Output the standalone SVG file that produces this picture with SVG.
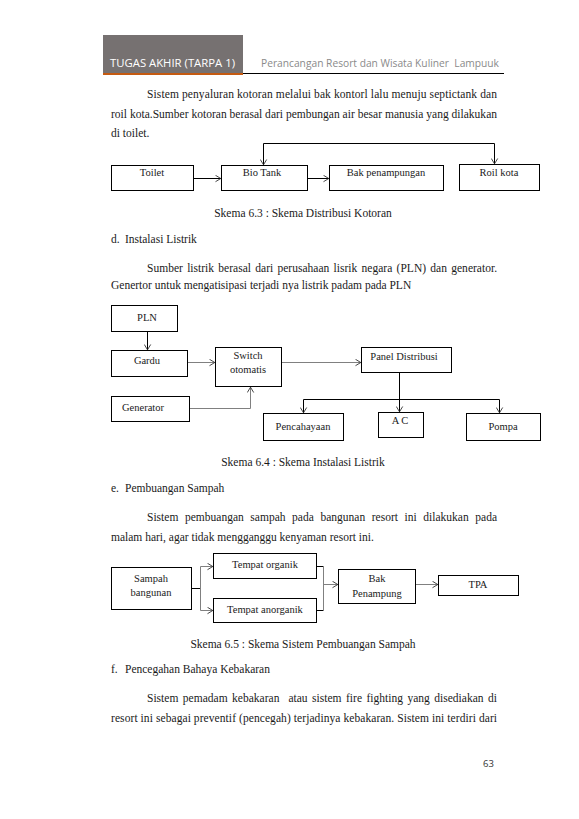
<svg xmlns="http://www.w3.org/2000/svg" width="579" height="819" viewBox="0 0 579 819">
<defs>
<style>
.body{font-family:"Liberation Serif","Times New Roman",serif;font-size:11.5px;fill:#1a1a1a}
.lbl{font-family:"Liberation Serif","Times New Roman",serif;font-size:10.5px;fill:#1a1a1a;text-anchor:middle}
.box{fill:#fff;stroke:#000;stroke-width:1}
.ln{fill:none;stroke:#000;stroke-width:1}
.lg{fill:none;stroke:#808080;stroke-width:1}
.cap{text-anchor:middle}
</style>
<marker id="ar" viewBox="0 0 6 8" refX="6" refY="4" markerWidth="6" markerHeight="8" markerUnits="userSpaceOnUse" orient="auto-start-reverse">
<path d="M0.5,0.8 L5.8,4 L0.5,7.2" fill="none" stroke="#333" stroke-width="0.9"/>
</marker>
</defs>
<rect width="579" height="819" fill="#fff"/>
<g id="header">
<rect x="103" y="35" width="140" height="38" fill="#767171"/>
<rect x="103" y="73" width="140" height="2" fill="#c55a11"/>
<line x1="243" y1="73.5" x2="504" y2="73.5" stroke="#000" stroke-width="1"/>
<text x="110" y="67" font-family="'Open Sans','Noto Sans',sans-serif" font-size="11.5" fill="#fff" textLength="125" lengthAdjust="spacingAndGlyphs">TUGAS AKHIR (TARPA 1)</text>
<text x="261" y="67" font-family="'Open Sans','Noto Sans',sans-serif" font-size="10.5" fill="#8a8a8a" textLength="238" lengthAdjust="spacingAndGlyphs" xml:space="preserve">Perancangan Resort dan Wisata Kuliner  Lampuuk</text>
</g>
<g id="text">
<text class="body" x="147" y="98" textLength="350" lengthAdjust="spacing">Sistem penyaluran kotoran melalui bak kontorl lalu menuju septictank dan</text>
<text class="body" x="111" y="118" textLength="386" lengthAdjust="spacing">roil kota.Sumber kotoran berasal dari pembungan air besar manusia yang dilakukan</text>
<text class="body" x="111" y="137">di toilet.</text>
<text class="body cap" x="303" y="217">Skema 6.3 : Skema Distribusi Kotoran</text>
<text class="body" x="111" y="243">d.</text>
<text class="body" x="125" y="243">Instalasi Listrik</text>
<text class="body" x="147" y="272" word-spacing="1.4" textLength="350" lengthAdjust="spacing">Sumber listrik berasal dari perusahaan lisrik negara (PLN) dan generator.</text>
<text class="body" x="111" y="289">Genertor untuk mengatisipasi terjadi nya listrik padam pada PLN</text>
<text class="body cap" x="303" y="466">Skema 6.4 : Skema Instalasi Listrik</text>
<text class="body" x="111" y="492">e.</text>
<text class="body" x="125" y="492">Pembuangan Sampah</text>
<text class="body" x="147" y="521" word-spacing="3.7" textLength="350" lengthAdjust="spacing">Sistem pembuangan sampah pada bangunan resort ini dilakukan pada</text>
<text class="body" x="111" y="541">malam hari, agar tidak mengganggu kenyaman resort ini.</text>
<text class="body cap" x="303" y="648">Skema 6.5 : Skema Sistem Pembuangan Sampah</text>
<text class="body" x="111" y="673">f.</text>
<text class="body" x="125" y="673">Pencegahan Bahaya Kebakaran</text>
<text class="body" x="147" y="702" word-spacing="1.6" textLength="350" lengthAdjust="spacing" xml:space="preserve">Sistem pemadam kebakaran  atau sistem fire fighting yang disediakan di</text>
<text class="body" x="111" y="722" textLength="386" lengthAdjust="spacing">resort ini sebagai preventif (pencegah) terjadinya kebakaran. Sistem ini terdiri dari</text>
<text x="483" y="767" font-family="'Open Sans','Noto Sans',sans-serif" font-size="9.5" fill="#333">63</text>
</g>
<g id="connectors">
<path class="ln" d="M193.5,178.5 H221" marker-end="url(#ar)"/>
<path class="ln" d="M307.5,178.5 H329" marker-end="url(#ar)"/>
<path class="ln" d="M263.5,165 V143.5 H494.5 V164" marker-start="url(#ar)" marker-end="url(#ar)"/>
<path class="ln" d="M147.5,331.5 V350" marker-end="url(#ar)"/>
<path class="lg" d="M187.5,362.5 H215" marker-end="url(#ar)"/>
<path class="lg" d="M189.5,408.5 H250.5 V387" marker-end="url(#ar)"/>
<path class="lg" d="M281.5,362.5 H361" marker-end="url(#ar)"/>
<path class="ln" d="M399.5,372.5 V412" marker-end="url(#ar)"/>
<path class="ln" d="M303.5,413 V399.5 H499.5 V413" marker-start="url(#ar)" marker-end="url(#ar)"/>
<path class="ln" d="M191.5,588.5 H200.5"/>
<path class="lg" d="M213,566.5 H200.5 V610.5 H213" marker-start="url(#ar)" marker-end="url(#ar)"/>
<path class="ln" d="M316.5,566.5 H323.5"/>
<path class="ln" d="M316.5,610.5 H323.5"/>
<path class="lg" d="M323.5,566.5 V610.5"/>
<path class="lg" d="M323.5,584.5 H338" marker-end="url(#ar)"/>
<path class="lg" d="M415.5,584.5 H438" marker-end="url(#ar)"/>
</g>
<g id="toilet"><rect class="box" x="111.5" y="165.5" width="82" height="25"/><text class="lbl" x="152" y="176">Toilet</text></g>
<g id="biotank"><rect class="box" x="221.5" y="165.5" width="86" height="25"/><text class="lbl" x="262" y="176">Bio Tank</text></g>
<g id="bakpenampungan"><rect class="box" x="329.5" y="165.5" width="114" height="25"/><text class="lbl" x="386" y="176">Bak penampungan</text></g>
<g id="roilkota"><rect class="box" x="459.5" y="164.5" width="80" height="26"/><text class="lbl" x="499" y="176">Roil kota</text></g>
<g id="pln"><rect class="box" x="111.5" y="305.5" width="66" height="26"/><text class="lbl" x="147" y="321">PLN</text></g>
<g id="gardu"><rect class="box" x="111.5" y="350.5" width="76" height="26"/><text class="lbl" x="147" y="364">Gardu</text></g>
<g id="switch"><rect class="box" x="215.5" y="347.5" width="66" height="39"/><text class="lbl" x="248" y="359">Switch</text><text class="lbl" x="248" y="373">otomatis</text></g>
<g id="generator"><rect class="box" x="111.5" y="396.5" width="78" height="25"/><text class="lbl" x="143" y="411">Generator</text></g>
<g id="panel"><rect class="box" x="361.5" y="347.5" width="90" height="25"/><text class="lbl" x="404" y="360">Panel Distribusi</text></g>
<g id="pencahayaan"><rect class="box" x="263.5" y="413.5" width="80" height="27"/><text class="lbl" x="303" y="430">Pencahayaan</text></g>
<g id="ac"><rect class="box" x="378.5" y="412.5" width="45" height="25"/><text class="lbl" x="401" y="424" letter-spacing="2">AC</text></g>
<g id="pompa"><rect class="box" x="466.5" y="413.5" width="74" height="27"/><text class="lbl" x="503" y="430">Pompa</text></g>
<g id="sampah"><rect class="box" x="111.5" y="567.5" width="80" height="42"/><text class="lbl" x="151" y="582">Sampah</text><text class="lbl" x="151" y="596">bangunan</text></g>
<g id="organik"><rect class="box" x="213.5" y="553.5" width="103" height="25"/><text class="lbl" x="265" y="568">Tempat organik</text></g>
<g id="anorganik"><rect class="box" x="213.5" y="598.5" width="103" height="24"/><text class="lbl" x="265" y="613">Tempat anorganik</text></g>
<g id="bakpenampung"><rect class="box" x="338.5" y="569.5" width="77" height="34"/><text class="lbl" x="377" y="582">Bak</text><text class="lbl" x="377" y="597">Penampung</text></g>
<g id="tpa"><rect class="box" x="438.5" y="575.5" width="80" height="20"/><text class="lbl" x="478" y="588">TPA</text></g>
</svg>
